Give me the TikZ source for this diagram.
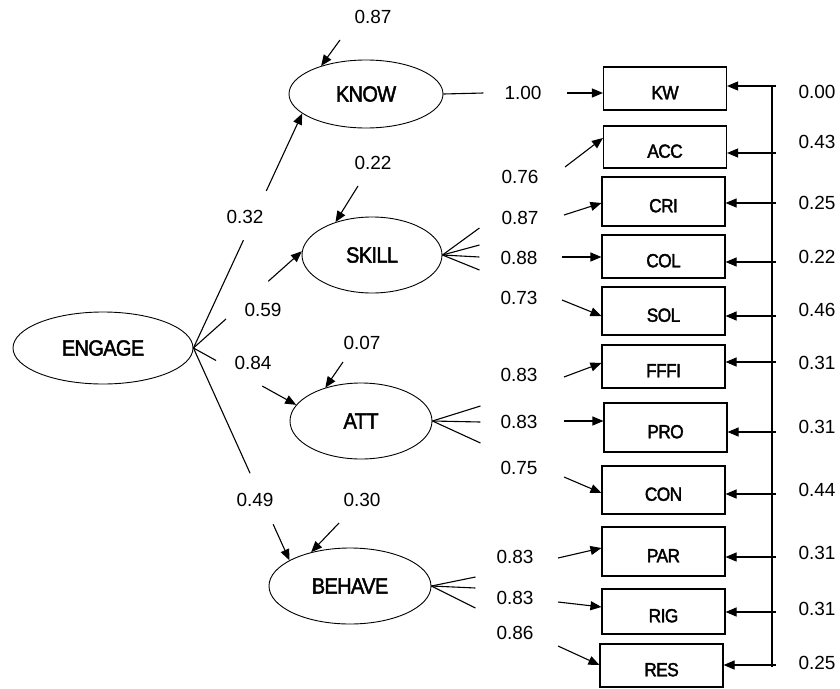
\documentclass[tikz,border=0pt]{standalone}
\usepackage{fontspec}
\setmainfont{Liberation Sans}
\newfontfamily\nodefont{Liberation Sans}[FakeBold=2,FakeStretch=0.91,LetterSpace=-3]
\usepackage{tikz}
\usetikzlibrary{shapes.geometric}
\usetikzlibrary{arrows.meta}
\usetikzlibrary{calc}
\tikzset{latent/.style={draw, ellipse, inner sep=0pt, line width=0.9pt, font=\nodefont\fontsize{22}{24}\selectfont}}
\tikzset{obsbox/.style={draw, rectangle, inner sep=0pt, minimum width=123pt, text height=21.5pt, text depth=0pt, font=\nodefont\fontsize{19}{21}\selectfont}}
\tikzset{coef/.style={inner sep=1pt, font=\fontsize{19}{21}\selectfont}}

\begin{document}
\begin{tikzpicture}[x=1pt,y=-1pt,line width=1.1pt,>={Triangle[length=11pt,width=9pt]}]
\useasboundingbox (0,0) rectangle (840,688);
% latent variables
\node[latent, minimum width=180pt, minimum height=72pt] (ENGAGE) at (103,348) {ENGAGE};
\node[latent, minimum width=154pt, minimum height=68pt] (KNOW) at (366,94) {KNOW};
\node[latent, minimum width=140pt, minimum height=76pt] (SKILL) at (372,255) {SKILL};
\node[latent, minimum width=142pt, minimum height=76pt] (ATT) at (361,421) {ATT};
\node[latent, minimum width=162pt, minimum height=76pt] (BEHAVE) at (350,586) {BEHAVE};
% observed variables
\foreach \n/\x/\y/\h in {KW/665/88.5/43, ACC/665/147/42, CRI/663.5/201.5/49, COL/663.5/256.5/43,
  SOL/663.5/311/48, FFFI/663.5/366.5/43, PRO/665.5/427.5/49, CON/663.5/490/48,
  PAR/663.5/551.5/49, RIG/663.5/611.5/45, RES/661.5/665.5/43} {
\node[obsbox, minimum height=\h pt] (\n) at (\x,\y) {\n};
}
% ENGAGE to the four factors
\foreach \n/\v/\lx/\ly/\a/\s/\e in {KNOW/0.32/245/217/197/0.46/0.67, SKILL/0.59/263/310/177/0.30/0.69,
  ATT/0.84/253/363/166/0.22/0.67, BEHAVE/0.49/255/500/157/0.59/0.83} {
\node[coef] (p\n) at (\lx,\ly) {\v};
\draw (ENGAGE.east) -- ($(ENGAGE.east)!\s!(\n.\a)$);
\draw[->] ($(ENGAGE.east)!\e!(\n.\a)$) -- (\n.\a);
}
% residuals of the factors
\foreach \n/\v/\lx/\ly/\tx/\ty/\a in {KNOW/0.87/373/17/340/40/148, SKILL/0.22/373/163/358/186/138,
  ATT/0.07/362/343/343/362/137, BEHAVE/0.30/362/500/339/523/139} {
\node[coef] (e\n) at (\lx,\ly) {\v};
\coordinate (z\n) at (\tx,\ty);
\draw[->] (z\n) -- (\n.\a);
}
\draw (KNOW.east) -- ++(40,-1);
\foreach \dy in {-27,-10,2,15} \draw (SKILL.east) -- ++(37,\dy);
\foreach \dy in {-15,1,22} \draw (ATT.east) -- ++(48,\dy);
\foreach \dy in {-9,2,22} \draw (BEHAVE.east) -- ++(44,\dy);
% loadings on the left of the boxes
\foreach \n/\v/\lx/\ly/\tx/\ty/\hy in {KW/1.00/523/93/567/93/93, ACC/0.76/520/177/565/167/138,
  CRI/0.87/520/218/564/215/203, COL/0.88/519/258/562/257/257, SOL/0.73/519/298/562/300/316,
  FFFI/0.83/519/375/564/377/363, PRO/0.83/519/422/564/421/421, CON/0.75/519/468/564/477/493,
  PAR/0.83/515/557/558/558/548, RIG/0.83/515/598/558/602/607, RES/0.86/515/633/558/646/665} {
\node[coef] (l\n) at (\lx,\ly) {\v};
\coordinate (t\n) at (\tx,\ty);
\coordinate (h\n) at (0,\hy);
\draw[->] (t\n) -- (\n.west |- h\n);
}
% errors on the right
\coordinate (bustop) at (772,86);
\coordinate (busend) at (772,667);
\draw (bustop) -- (busend);
\foreach \n/\v/\ay/\ly in {KW/0.00/86/92, ACC/0.43/153/142, CRI/0.25/203/203, COL/0.22/262/257,
  SOL/0.46/316/310, FFFI/0.31/362/363, PRO/0.31/432/427, CON/0.44/494/490,
  PAR/0.31/557/553, RIG/0.31/612/609, RES/0.25/665/663} {
\coordinate (b\n) at (776,\ay);
\draw[->] (b\n) -- (b\n -| \n.east);
\node[coef] (r\n) at (817,\ly) {\v};
}
\end{tikzpicture}
\end{document}
